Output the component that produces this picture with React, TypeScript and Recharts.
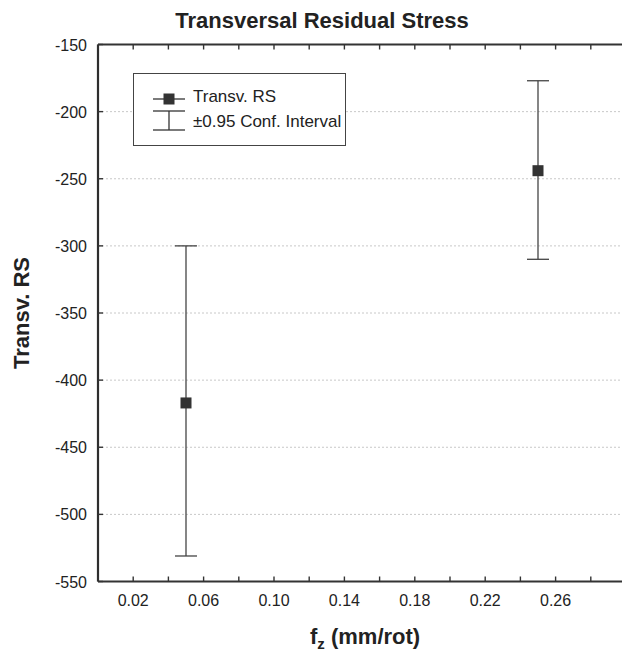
import React from "react";
import { ScatterChart, Scatter, XAxis, YAxis, CartesianGrid, ErrorBar } from "recharts";

const feedRates = [0.05, 0.25];
const meanRS = [-417, -244];
const upperCI = [-300, -177];
const lowerCI = [-531, -310];
const xTicks = [0, 0.02, 0.04, 0.06, 0.08, 0.1, 0.12, 0.14, 0.16, 0.18, 0.2, 0.22, 0.24, 0.26, 0.28, 0.3];
const xLabelTicks = ["0.02", "0.06", "0.10", "0.14", "0.18", "0.22", "0.26"];
const yTicks = [-550, -500, -450, -400, -350, -300, -250, -200, -150];

const data = feedRates.map((x, i) => ({
  x,
  y: meanRS[i],
  err: [meanRS[i] - lowerCI[i], upperCI[i] - meanRS[i]],
}));

const FONT = "'Liberation Sans', Arial, Helvetica, sans-serif";
const AX = "#333333";

const BottomTick = (props: any) => {
  const { x, y, payload } = props;
  const lbl = payload.value.toFixed(2);
  const show = xLabelTicks.includes(lbl);
  return (
    <g>
      <line x1={x} y1={y} x2={x} y2={y - 5} stroke={AX} strokeWidth={1.4} />
      {show && (
        <text x={x} y={y + 24} textAnchor="middle" fontSize={16} fontFamily={FONT} fill="#222">
          {lbl}
        </text>
      )}
    </g>
  );
};

const TopTick = (props: any) => {
  const { x, y } = props;
  return <line x1={x} y1={y} x2={x} y2={y + 5} stroke={AX} strokeWidth={1.4} />;
};

const LeftTick = (props: any) => {
  const { x, y, payload } = props;
  return (
    <g>
      <line x1={x} y1={y} x2={x + 5} y2={y} stroke={AX} strokeWidth={1.4} />
      <text x={x - 11} y={y + 6} textAnchor="end" fontSize={16} fontFamily={FONT} fill="#222">
        {payload.value}
      </text>
    </g>
  );
};

const Square = (props: any) => {
  const { cx, cy } = props;
  return <rect x={cx - 5.5} y={cy - 5.5} width={11} height={11} fill="#333" />;
};

export default function App() {
  return (
    <div style={{ position: "absolute", left: 0, top: 0, width: 622, height: 655, background: "#fff", fontFamily: FONT, overflow: "hidden" }}>
      <ScatterChart width={622} height={655} margin={{ top: 43.5, right: -4, bottom: 0, left: 0 }}>
        <CartesianGrid vertical={false} stroke="#c8c8c8" strokeDasharray="2 2" />
        <XAxis
          xAxisId="top"
          orientation="top"
          type="number"
          dataKey="x"
          domain={[0, 0.3]}
          ticks={xTicks}
          height={1}
          tickSize={0}
          tickMargin={0}
          tick={<TopTick />}
          axisLine={{ stroke: AX, strokeWidth: 2 }}
          stroke={AX}
          interval={0}
          allowDataOverflow
        />
        <XAxis
          type="number"
          dataKey="x"
          domain={[0, 0.3]}
          ticks={xTicks}
          height={73.5}
          tickSize={0}
          tickMargin={0}
          tick={<BottomTick />}
          axisLine={{ stroke: AX, strokeWidth: 2 }}
          stroke={AX}
          interval={0}
          allowDataOverflow
        />
        <YAxis
          type="number"
          dataKey="y"
          domain={[-550, -150]}
          ticks={yTicks}
          width={98}
          tickSize={0}
          tickMargin={0}
          tick={<LeftTick />}
          axisLine={{ stroke: "#2e2e2e", strokeWidth: 2.2 }}
          stroke={AX}
          interval={0}
          allowDataOverflow
        />
        <Scatter data={data} shape={<Square />} isAnimationActive={false}>
          <ErrorBar dataKey="err" direction="y" width={11} stroke="#444" strokeWidth={1.3} />
        </Scatter>
      </ScatterChart>

      <div style={{ position: "absolute", left: 0, width: 644, top: 8, textAlign: "center", fontWeight: "bold", fontSize: 22, color: "#222" }}>
        Transversal Residual Stress
      </div>

      <div
        style={{
          position: "absolute",
          left: 22,
          top: 313,
          transform: "translate(-50%, -50%) rotate(-90deg)",
          fontWeight: "bold",
          fontSize: 22,
          color: "#222",
          whiteSpace: "nowrap",
        }}
      >
        Transv. RS
      </div>

      <div style={{ position: "absolute", left: 310, width: 110, top: 624, textAlign: "center", fontWeight: "bold", fontSize: 22, color: "#222", whiteSpace: "nowrap" }}>
        f<sub style={{ fontSize: 15 }}>z</sub> (mm/rot)
      </div>

      <div
        style={{
          position: "absolute",
          left: 133,
          top: 73,
          width: 213,
          height: 73,
          boxSizing: "border-box",
          border: "1.5px solid #444",
          background: "#fff",
        }}
      >
        <svg width={40} height={60} style={{ position: "absolute", left: 18, top: 8 }}>
          <line x1={1} y1={17} x2={33} y2={17} stroke="#333" strokeWidth={1.3} />
          <rect x={11.5} y={11.5} width={11} height={11} fill="#333" />
          <line x1={1} y1={29} x2={33} y2={29} stroke="#333" strokeWidth={1.3} />
          <line x1={17} y1={29} x2={17} y2={48} stroke="#333" strokeWidth={1.3} />
          <line x1={1} y1={48} x2={33} y2={48} stroke="#333" strokeWidth={1.3} />
        </svg>
        <div style={{ position: "absolute", left: 59, top: 13, fontSize: 17, color: "#222", whiteSpace: "nowrap", lineHeight: "20px" }}>
          Transv. RS
        </div>
        <div style={{ position: "absolute", left: 59, top: 38, fontSize: 17, color: "#222", whiteSpace: "nowrap", lineHeight: "20px" }}>
          ±0.95 Conf. Interval
        </div>
      </div>
    </div>
  );
}
